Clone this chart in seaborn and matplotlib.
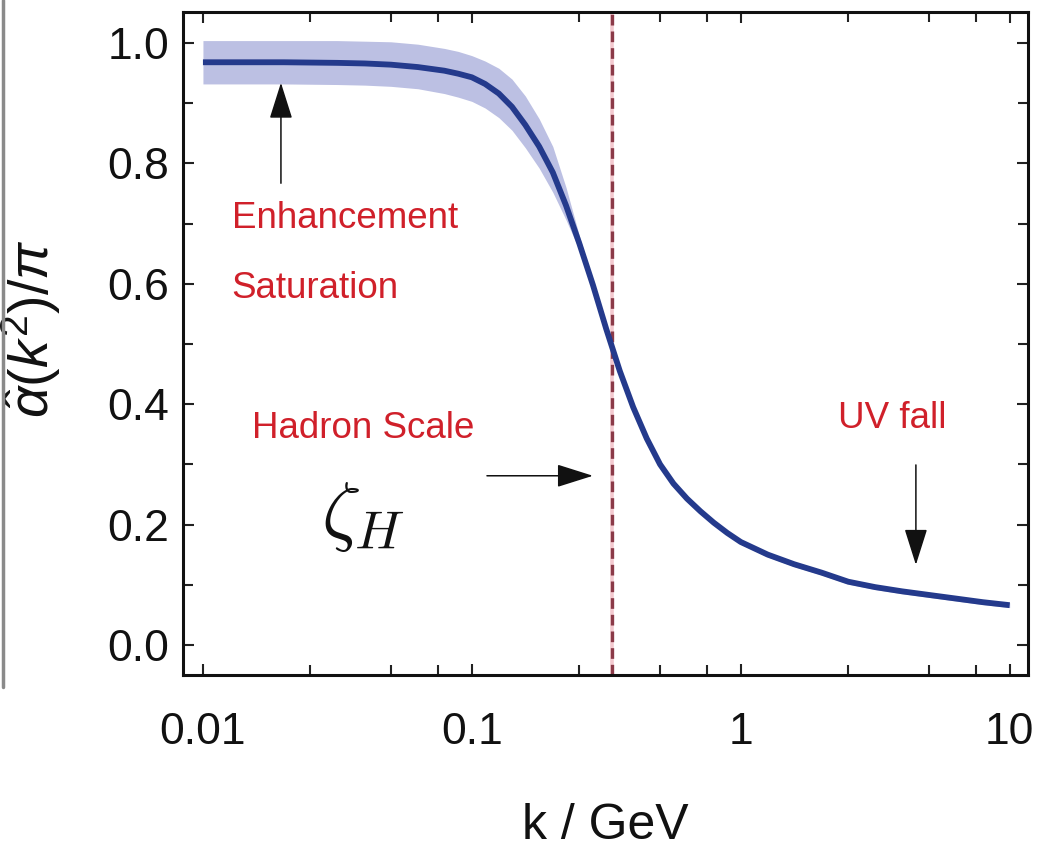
import numpy as np
import pandas as pd
import matplotlib
matplotlib.use("Agg")
import matplotlib.pyplot as plt
from matplotlib.lines import Line2D
from matplotlib.ticker import FixedLocator, NullFormatter
import seaborn as sns

# ---- data ----
k_gev = [0.01, 0.02, 0.0316, 0.04, 0.05, 0.063, 0.079, 0.089, 0.1, 0.112, 0.126, 0.141,
         0.158, 0.178, 0.2, 0.224, 0.251, 0.282, 0.316, 0.355, 0.398, 0.447, 0.501, 0.562,
         0.631, 0.708, 0.794, 0.891, 1.0, 1.26, 1.58, 2.0, 2.51, 3.16, 3.98, 5.01, 6.31, 7.94, 10.0]
alpha_hat = [0.968, 0.968, 0.967, 0.966, 0.964, 0.960, 0.954, 0.949, 0.943, 0.932, 0.916, 0.894,
             0.864, 0.828, 0.785, 0.730, 0.667, 0.598, 0.525, 0.455, 0.395, 0.343, 0.300, 0.268,
             0.243, 0.222, 0.203, 0.186, 0.171, 0.150, 0.134, 0.120, 0.105, 0.096, 0.089, 0.083, 0.077, 0.071, 0.066]
band_upper = [1.004, 1.004, 1.004, 1.003, 1.002, 0.998, 0.991, 0.986, 0.979, 0.970, 0.958, 0.940,
              0.912, 0.874, 0.828, 0.760, 0.680, 0.603, 0.529, 0.459, 0.399, 0.347, 0.304, 0.272,
              0.247, 0.226, 0.207, 0.190, 0.175, 0.154, 0.138, 0.124, 0.109, 0.100, 0.093, 0.087, 0.081, 0.075, 0.070]
band_lower = [0.932, 0.932, 0.931, 0.930, 0.928, 0.924, 0.916, 0.910, 0.903, 0.892, 0.876, 0.855,
              0.826, 0.792, 0.752, 0.706, 0.656, 0.593, 0.521, 0.451, 0.391, 0.339, 0.296, 0.264,
              0.239, 0.218, 0.199, 0.182, 0.167, 0.146, 0.130, 0.116, 0.101, 0.092, 0.085, 0.079, 0.073, 0.067, 0.062]
zeta_h = 0.331
x_major = [0.01, 0.1, 1, 10]
x_major_labels = ["0.01", "0.1", "1", "10"]
x_minor = [0.025, 0.05, 0.075, 0.25, 0.5, 0.75, 2.5, 5, 7.5]
y_major = [0.0, 0.2, 0.4, 0.6, 0.8, 1.0]
y_minor = [0.1, 0.3, 0.5, 0.7, 0.9]

df = pd.DataFrame({"k": k_gev, "alpha": alpha_hat})

sns.set_theme(style="ticks")
plt.rcParams["font.family"] = ["Liberation Sans", "DejaVu Sans"]
plt.rcParams["mathtext.fontset"] = "custom"
plt.rcParams["mathtext.rm"] = "Liberation Sans"
plt.rcParams["mathtext.it"] = "Liberation Sans:italic"

W, H = 1054, 849
fig = plt.figure(figsize=(W / 100, H / 100), dpi=100)
ax = fig.add_axes([183 / W, 1 - 675 / H, (1028 - 183) / W, (675 - 12) / H])

ax.set_xscale("log")
ax.fill_between(k_gev, band_lower, band_upper, color="#bcc0e3", lw=0, zorder=1)
sns.lineplot(data=df, x="k", y="alpha", ax=ax, color="#243a8c", lw=4.2, zorder=3,
             legend=False, solid_joinstyle="round", solid_capstyle="butt")

# hadron scale line
ax.axvline(zeta_h, color="#f3c9cf", lw=2.6, zorder=2)
ax.axvline(zeta_h, color="#8b3a48", lw=2.4, ls=(0, (3.2, 1.8)), zorder=2.5)

ax.set_xlim(0.00843, 11.7)
ax.set_ylim(-0.05, 1.0515)

ax.xaxis.set_major_locator(FixedLocator(x_major))
ax.set_xticklabels(x_major_labels)
ax.xaxis.set_minor_locator(FixedLocator(x_minor))
ax.xaxis.set_minor_formatter(NullFormatter())
ax.yaxis.set_major_locator(FixedLocator(y_major))
ax.set_yticklabels([f"{v:.1f}" for v in y_major])
ax.yaxis.set_minor_locator(FixedLocator(y_minor))

ax.tick_params(which="both", direction="in", top=True, right=True, width=1.5, color="#222222")
ax.tick_params(which="major", length=8)
ax.tick_params(which="minor", length=7)
ax.tick_params(axis="x", which="major", labelsize=32, pad=27, labelcolor="#111111")
ax.tick_params(axis="y", which="major", labelsize=32, pad=10, labelcolor="#111111")
for s in ax.spines.values():
    s.set_linewidth(2.2)
    s.set_color("#111111")

ax.set_xlabel("k / GeV", fontsize=36, color="#111111")
ax.xaxis.set_label_coords(0.5, -0.193)
ax.set_ylabel(r"$\hat{\alpha}(k^2)/\pi$", fontsize=40, color="#111111")
ax.yaxis.set_label_coords(-0.142, 0.523)

red = "#d0202a"
ax.text(0.0128, 0.693, "Enhancement", color=red, fontsize=26.5, va="baseline")
ax.text(0.0128, 0.576, "Saturation", color=red, fontsize=26.5, va="baseline")
ax.text(0.0152, 0.344, "Hadron Scale", color=red, fontsize=26.5, va="baseline")
ax.text(2.30, 0.360, "UV fall", color=red, fontsize=26.5, va="baseline")
ax.text(0.0395, 0.212, r"$\zeta_H$", fontsize=56, ha="center", va="center",
        math_fontfamily="cm", color="#111111")

arrow_kw = dict(arrowstyle="-|>,head_length=1.9,head_width=0.6", color="#111111", lw=1.1,
                shrinkA=0, shrinkB=0)
ax.annotate("", xy=(0.0195, 0.934), xytext=(0.0195, 0.767), arrowprops=arrow_kw)
ax.annotate("", xy=(0.282, 0.281), xytext=(0.1138, 0.281), arrowprops=arrow_kw)
ax.annotate("", xy=(4.48, 0.133), xytext=(4.48, 0.299), arrowprops=arrow_kw)

# grey edge of the cropped source figure
fig.add_artist(Line2D([3 / W, 3 / W], [1 - 687 / H, 1.0], color="#8a8a8a", lw=2.5))

fig.savefig("out.png", dpi=100)
